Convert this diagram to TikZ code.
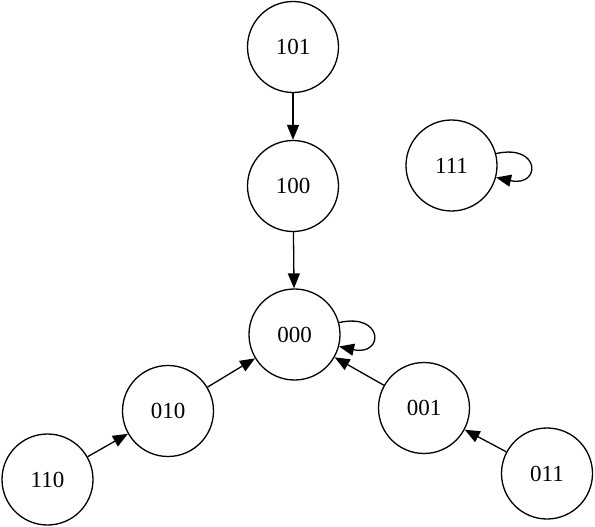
\documentclass[tikz,border=0pt]{standalone}
\usepackage{fontspec}
\setmainfont{Liberation Serif}
\usetikzlibrary{arrows.meta}
\begin{document}
\begin{tikzpicture}[x=1pt,y=-1pt,
  state/.style={circle,draw,line width=1.3pt,minimum size=91pt,inner sep=0pt,font=\fontsize{23}{26}\selectfont},
  edge/.style={line width=1.3pt,-{Triangle[length=15pt,width=12pt]}}]
\useasboundingbox (0,0) rectangle (595,527);
\node[state] (n101) at (293,47) {101};
\node[state] (n100) at (293,186) {100};
\node[state] (n111) at (451.5,165.5) {111};
\node[state] (n000) at (294.5,334.5) {000};
\node[state] (n010) at (168,411) {010};
\node[state] (n001) at (424,408) {001};
\node[state] (n110) at (47.5,479.5) {110};
\node[state] (n011) at (547,473.5) {011};
\draw[edge] (n101) -- (n100);
\draw[edge] (n100) -- (n000);
\draw[edge] (n010) -- (n000);
\draw[edge] (n001) -- (n000);
\draw[edge] (n110) -- (n010);
\draw[edge] (n011) -- (n001);
\draw[edge] (n000.15) .. controls +(45,-10) and +(45,10) .. (n000.-15);
\draw[edge] (n111.15) .. controls +(45,-10) and +(45,10) .. (n111.-15);
\end{tikzpicture}
\end{document}
